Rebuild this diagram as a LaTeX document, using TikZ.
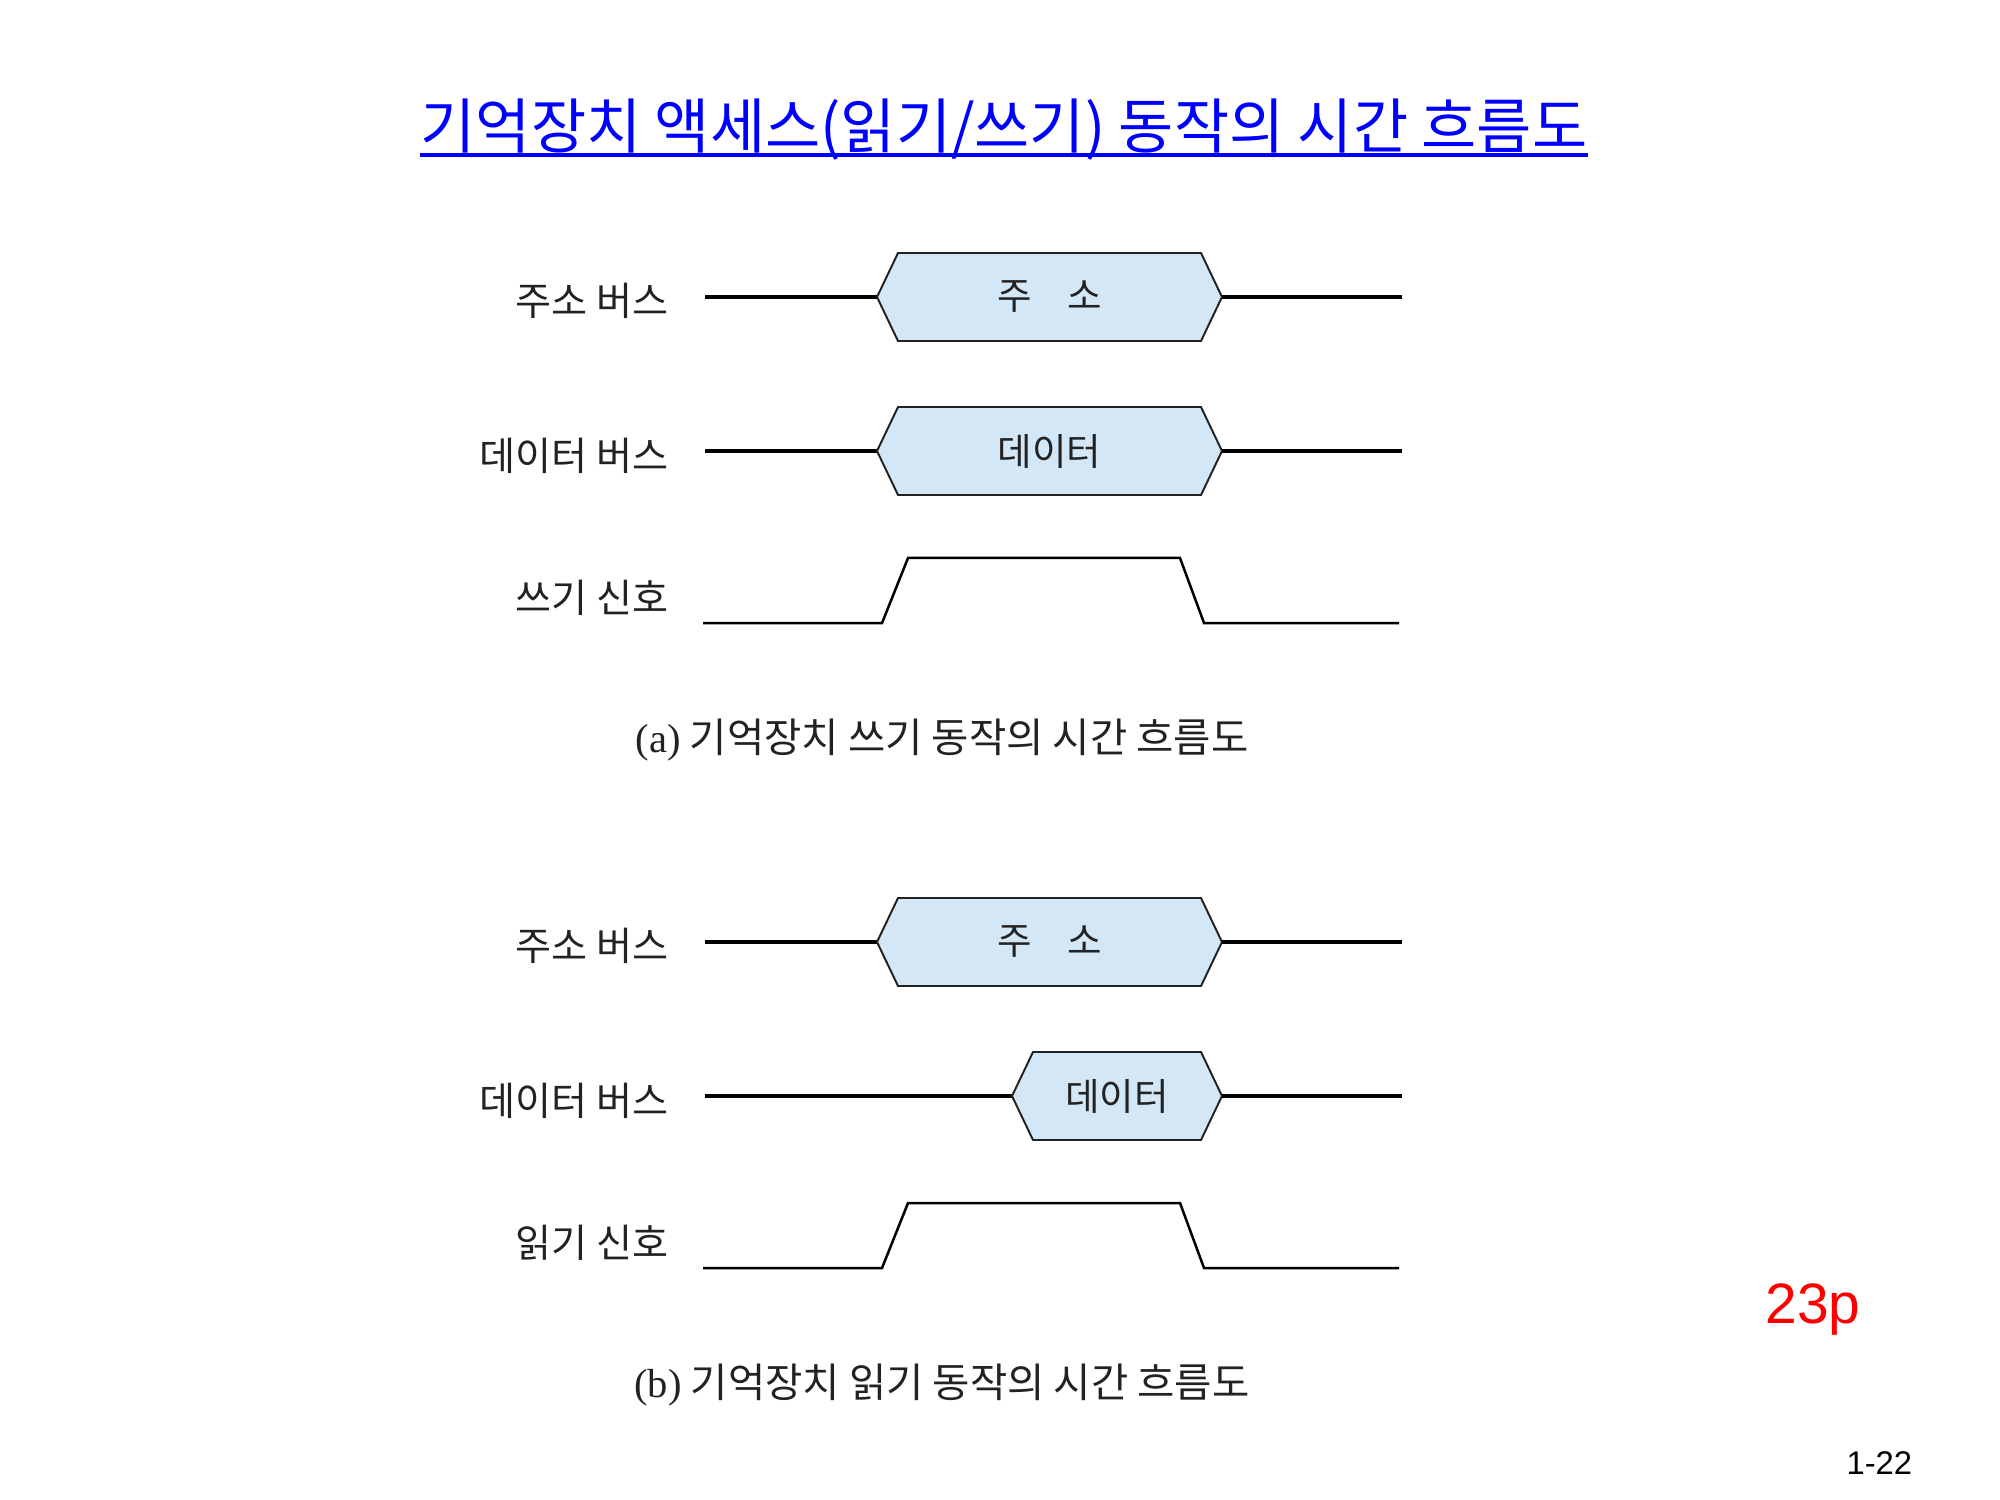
\documentclass[tikz,border=0pt]{standalone}
\usepackage{fontspec}
\setmainfont{Noto Sans CJK KR}
\newfontfamily\latinserif{Liberation Serif}
\newfontfamily\latinsans{Liberation Sans}
\usetikzlibrary{calc}
\definecolor{hexfill}{HTML}{D4E7F7}
\definecolor{inkgray}{HTML}{222222}
\definecolor{titleblue}{HTML}{0000FF}
\definecolor{pagered}{HTML}{FF0000}
\begin{document}
\begin{tikzpicture}[x=0.36pt,y=-0.36pt,
  bus/.style={draw=black,line width=1.1pt},
  sig/.style={draw=black,line width=0.9pt,line join=miter},
  hexbox/.style={fill=hexfill,draw=inkgray,line width=0.7pt,line join=miter},
  lbl/.style={anchor=east,inner sep=0pt,font=\fontsize{14.1}{16}\selectfont,text=inkgray},
  hextxt/.style={inner sep=0pt,font=\fontsize{13.5}{15}\selectfont,text=inkgray},
  captxt/.style={inner sep=0pt,font=\fontsize{14.6}{17}\selectfont,text=inkgray}]
\fill[white] (0,0) rectangle (2000,1500);
\useasboundingbox (0,0) rectangle (2000,1500);

% title
\node[inner sep=0pt,text=titleblue,font=\fontsize{21.6}{26}\selectfont] (title) at (1004,130)
  {기억장치 액세스(읽기/쓰기) 동작의 시간 흐름도};
\draw[titleblue,line width=1.5pt] ($(title.west)+(0,25)$) -- ($(title.east)+(0,25)$);

% ---------- (a) write ----------
\node[lbl] (la1) at (669,301) {주소 버스};
\node[lbl] (la2) at (669,456) {데이터 버스};
\node[lbl] (la3) at (669,598) {쓰기 신호};

\draw[bus] (705,297) -- (877,297);
\filldraw[hexbox] (877,297) -- (898,253) -- (1201,253) -- (1222,297) -- (1201,341) -- (898,341) -- cycle;
\draw[bus] (1222,297) -- (1402,297);
\node[hextxt] (ha1) at (1049.5,297) {주\hspace{0.95em}소};

\draw[bus] (705,451) -- (877,451);
\filldraw[hexbox] (877,451) -- (898,407) -- (1201,407) -- (1222,451) -- (1201,495) -- (898,495) -- cycle;
\draw[bus] (1222,451) -- (1402,451);
\node[hextxt] (ha2) at (1049.5,451) {데이터};

\draw[sig] (703,623) -- (882,623) -- (908,558) -- (1180,558) -- (1204,623) -- (1399,623);

\node[captxt] (capa) at (942,740) {{\latinserif (a)} 기억장치 쓰기 동작의 시간 흐름도};

% ---------- (b) read ----------
\node[lbl] (lb1) at (669,946) {주소 버스};
\node[lbl] (lb2) at (669,1101) {데이터 버스};
\node[lbl] (lb3) at (669,1243) {읽기 신호};

\draw[bus] (705,942) -- (877,942);
\filldraw[hexbox] (877,942) -- (898,898) -- (1201,898) -- (1222,942) -- (1201,986) -- (898,986) -- cycle;
\draw[bus] (1222,942) -- (1402,942);
\node[hextxt] (hb1) at (1049.5,942) {주\hspace{0.95em}소};

\draw[bus] (705,1096) -- (1012,1096);
\filldraw[hexbox] (1012,1096) -- (1033,1052) -- (1201,1052) -- (1222,1096) -- (1201,1140) -- (1033,1140) -- cycle;
\draw[bus] (1222,1096) -- (1402,1096);
\node[hextxt] (hb2) at (1117,1096) {데이터};

\draw[sig] (703,1268) -- (882,1268) -- (908,1203) -- (1180,1203) -- (1204,1268) -- (1399,1268);

\node[captxt] (capb) at (942,1385) {{\latinserif (b)} 기억장치 읽기 동작의 시간 흐름도};

% page marks
\node[anchor=base west,inner sep=0pt,text=pagered,font=\latinsans\fontsize{20.5}{24}\selectfont] (pg) at (1765,1323) {23p};
\node[anchor=base west,inner sep=0pt,text=black,font=\latinsans\fontsize{11.8}{14}\selectfont] (sl) at (1846,1474) {1-22};
\end{tikzpicture}
\end{document}
